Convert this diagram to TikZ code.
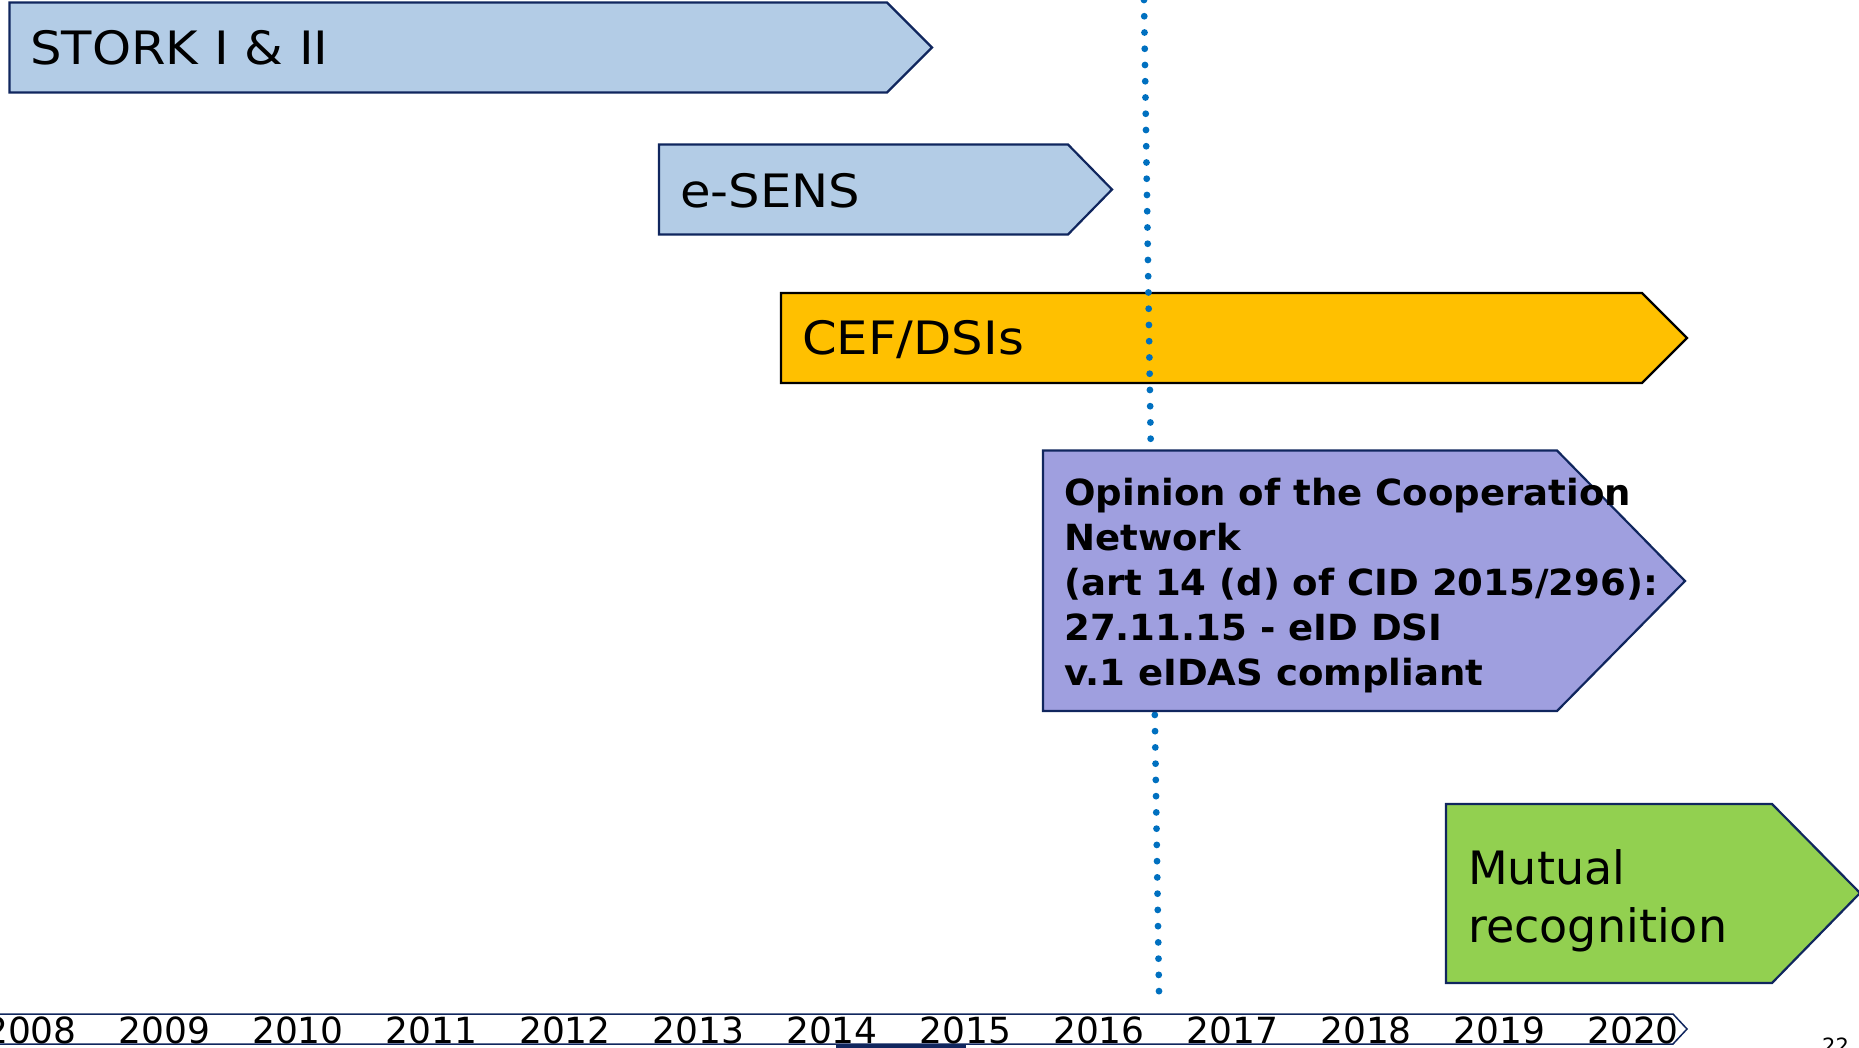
\documentclass[tikz,border=0pt]{standalone}
\usepackage{fontspec}
\setmainfont{DejaVu Sans}
\newfontfamily\barfont{DejaVu Sans}[FakeStretch=1.08]
\newfontfamily\notefont{DejaVu Sans Bold}[FakeStretch=1.03]

\definecolor{navyline}{HTML}{10265E}
\definecolor{stagesky}{HTML}{B3CCE6}
\definecolor{stagegold}{HTML}{FFC000}
\definecolor{stagelilac}{HTML}{9F9FDF}
\definecolor{stagegreen}{HTML}{92D050}
\definecolor{markblue}{HTML}{0070C0}

\tikzset{
    stage/.style={draw=navyline, line width=2.2pt, line join=miter},
    stagelabel/.style={anchor=base west, inner sep=0pt, align=left, font=\barfont\fontsize{46}{58}\selectfont},
    yearlabel/.style={anchor=base, inner sep=0pt, font=\fontsize{36}{40}\selectfont}
}

\begin{document}
\begin{tikzpicture}[x=1pt,y=-1pt]
    \useasboundingbox (0,0) rectangle (1859,1048);

    % Projects
    \draw[stage, fill=stagesky] (9.5,2.5) -- (887,2.5) -- (932,47.5) -- (887,92.5) -- (9.5,92.5) -- cycle;
    \node[stagelabel] (stork) at (30,65) {STORK I \& II};

    \draw[stage, fill=stagesky] (659,144.5) -- (1068,144.5) -- (1112,189.5) -- (1068,234.5) -- (659,234.5) -- cycle;
    \node[stagelabel] (esens) at (680,208) {e-SENS};

    \draw[stage, draw=black, fill=stagegold] (781,293) -- (1642,293) -- (1687,338) -- (1642,383) -- (781,383) -- cycle;
    \node[stagelabel] (cef) at (802,354) {CEF/DSIs};

    % Date marker
    \coordinate (marktop) at (1144,0);
    \coordinate (markbottom) at (1159,992);
    \draw[markblue, line width=6.8pt, line cap=round, dash pattern=on 0pt off 16.25pt] (marktop) -- (markbottom);

    \draw[stage, fill=stagelilac] (1043,450.5) -- (1557,450.5) -- (1685,581) -- (1557,711) -- (1043,711) -- cycle;
    \node[anchor=base west, inner sep=0pt, align=left, font=\notefont\fontsize{36}{44.8}\selectfont] (opinion) at (1064,685)
        {Opinion of the Cooperation\\Network\\(art 14 (d) of CID 2015/296):\\27.11.15 - eID DSI\\v.1 eIDAS compliant};

    \draw[stage, fill=stagegreen] (1446,804) -- (1772,804) -- (1860,893) -- (1772,983) -- (1446,983) -- cycle;
    \node[stagelabel, font=\fontsize{46}{58}\selectfont] (mutual) at (1468,942) {Mutual\\recognition};

    % Timeline
    \draw[draw=navyline, line width=1.5pt, fill=white] (-5,1014) -- (1673,1014) -- (1687,1029) -- (1673,1044) -- (-5,1044) -- cycle;
    \fill[navyline] (836,1045) rectangle (966,1050);
    \foreach \yr [count=\i from 0] in {2008,...,2020}
        \node[yearlabel] (y\yr) at (31+133.5*\i,1043) {\yr};

    \node[anchor=base west, inner sep=0pt, font=\fontsize{21}{24}\selectfont] (pageno) at (1822,1053) {22};
\end{tikzpicture}
\end{document}
